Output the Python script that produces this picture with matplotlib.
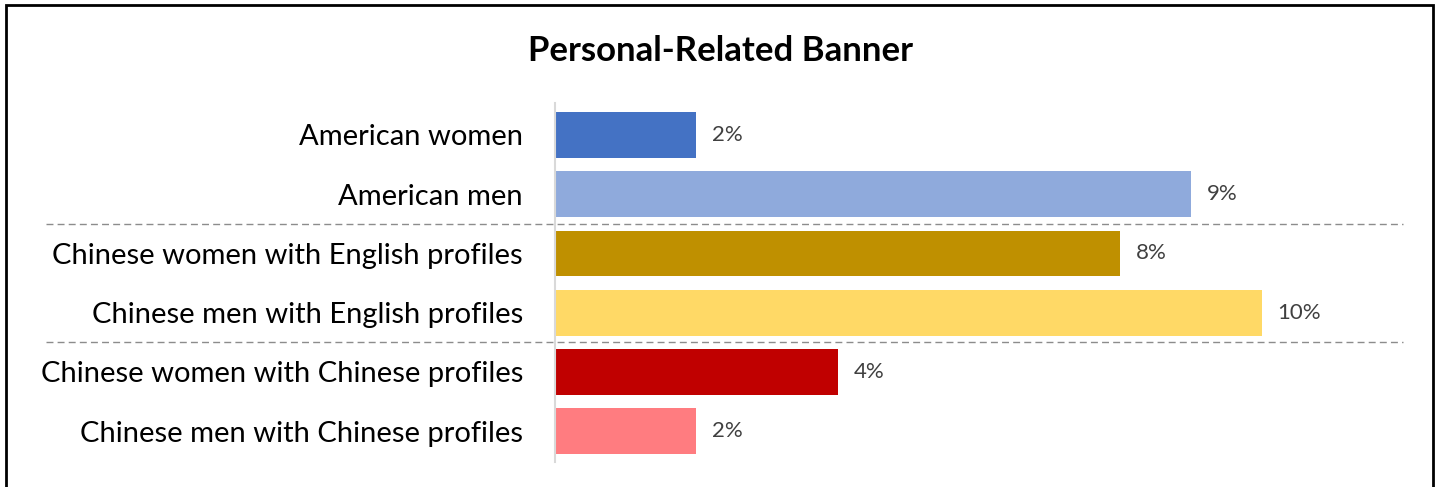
import matplotlib.pyplot as plt
import matplotlib.transforms as mtransforms
from matplotlib.patches import Rectangle

groups = ["American women", "American men",
          "Chinese women with English profiles", "Chinese men with English profiles",
          "Chinese women with Chinese profiles", "Chinese men with Chinese profiles"]
shares = [2, 9, 8, 10, 4, 2]
colors = ["#4472c4", "#8faadc", "#bf9000", "#ffd966", "#c00000", "#ff7c80"]
separators = [1.5, 3.5]

plt.rcParams['font.family'] = ['Lato', 'DejaVu Sans']

W, H = 1440, 487
fig = plt.figure(figsize=(W / 100, H / 100), dpi=100)

# outer frame, bottom edge runs off the canvas
fig.patches.append(Rectangle((6 / W, -0.05), (1433 - 6) / W, 1.05 - 5 / H,
                             transform=fig.transFigure, fill=False,
                             edgecolor="black", linewidth=2))

ax = fig.add_axes([555 / W, 1 - 462 / H, (1403 - 555) / W, (462 - 103) / H])
ypos = range(len(groups))
ax.barh(ypos, shares, height=0.775, color=colors)

for y, v in zip(ypos, shares):
    ax.annotate(f"{v}%", (v, y), xytext=(11.5, 0), textcoords="offset points",
                va="center", ha="left", fontsize=16, color="#404040")

trans = mtransforms.blended_transform_factory(fig.transFigure, ax.transData)
for s in separators:
    ax.plot([46 / W, 1403 / W], [s, s], transform=trans, clip_on=False,
            color="#8c8c8c", linewidth=1, linestyle=(0, (5, 3)))

ax.set_xlim(0, 12)
ax.set_ylim(5.52, -0.54)
ax.set_yticks(list(ypos))
ax.set_yticklabels(groups, fontsize=21)
ax.tick_params(axis="y", length=0, pad=23)
ax.set_xticks([])
for side in ["top", "right", "bottom"]:
    ax.spines[side].set_visible(False)
ax.spines["left"].set_color("#d9d9d9")
ax.spines["left"].set_linewidth(1.5)

fig.text(0.5, 1 - 51 / H, "Personal-Related Banner", ha="center", va="center",
         fontsize=25, fontweight="bold")

fig.savefig("out.png", dpi=100)
